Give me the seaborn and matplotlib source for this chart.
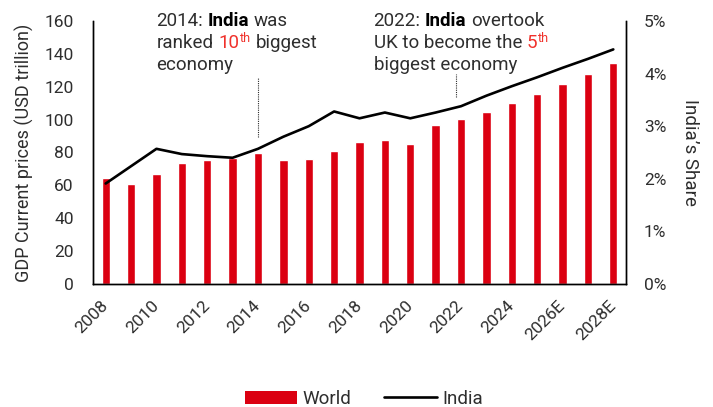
import numpy as np
import pandas as pd
import matplotlib
matplotlib.use("Agg")
import matplotlib.pyplot as plt
from matplotlib.patches import Patch
from matplotlib.lines import Line2D
from matplotlib.ticker import FuncFormatter
import seaborn as sns

# World GDP at current prices (USD trillion) and India's share of it
years = ["2008", "2009", "2010", "2011", "2012", "2013", "2014", "2015", "2016",
         "2017", "2018", "2019", "2020", "2021", "2022", "2023", "2024", "2025",
         "2026E", "2027E", "2028E"]
world_gdp = [64.3, 60.8, 66.7, 73.8, 75.4, 76.4, 79.7, 75.2, 76.2, 81.1, 86.4,
             87.4, 85.2, 96.7, 100.4, 104.8, 109.9, 115.8, 121.9, 127.7, 134.2]
india_share = [1.91, 2.24, 2.57, 2.47, 2.43, 2.40, 2.57, 2.80, 3.00, 3.28, 3.15,
               3.26, 3.15, 3.26, 3.38, 3.58, 3.76, 3.93, 4.11, 4.28, 4.46]
shown_ticks = ["2008", "2010", "2012", "2014", "2016", "2018", "2020", "2022",
               "2024", "2026E", "2028E"]

RED = "#db0011"
HILITE = "#f0312b"
INK = "#2e2e2e"
W, H = 713, 407

sns.set_theme(style="white")
plt.rcParams["font.family"] = ["Roboto", "DejaVu Sans"]
plt.rcParams["font.weight"] = "normal"
plt.rcParams["text.color"] = INK
plt.rcParams["axes.labelcolor"] = INK
plt.rcParams["xtick.color"] = INK
plt.rcParams["ytick.color"] = INK

df = pd.DataFrame({"year": years, "world": world_gdp, "india": india_share})
df["pos"] = np.arange(len(df))

fig = plt.figure(figsize=(W / 100, H / 100), dpi=100)
ax = fig.add_axes([93 / W, 1 - 284 / H, (626 - 93) / W, (284 - 21) / H])

sns.barplot(data=df, x="year", y="world", color=RED, width=0.33,
            saturation=1, ax=ax)
ax.set_xlim(-0.5, len(years) - 0.5)
ax.set_ylim(0, 160)
ax.set_yticks(np.arange(0, 161, 20))
ax.set_xticks([years.index(t) for t in shown_ticks])
ax.set_xticklabels(shown_ticks, rotation=45, ha="right", va="center",
                   rotation_mode="anchor")
ax.tick_params(axis="both", length=0, labelsize=12.5)
ax.tick_params(axis="y", pad=14)
ax.tick_params(axis="x", pad=14)
ax.set_xlabel("")
ax.set_ylabel("GDP Current prices (USD trillion)", fontsize=13)
ax.yaxis.set_label_coords((34 - 93) / 533, 0.5)

ax2 = ax.twinx()
sns.lineplot(data=df, x="pos", y="india", color="black", lw=1.9, ax=ax2)
ax2.set_ylim(0, 5)
ax2.set_yticks(np.arange(0, 6, 1))
ax2.yaxis.set_major_formatter(FuncFormatter(lambda v, _: f"{v:.0f}%"))
ax2.tick_params(axis="y", length=0, labelsize=12.5, pad=13)
ax2.set_xlabel("")
ax2.set_ylabel("India\u2019s Share", fontsize=13.5, rotation=270, va="center")
ax2.yaxis.set_label_coords((690 - 93) / 533, 0.5)

for a in (ax, ax2):
    for side, sp in a.spines.items():
        sp.set_visible(side != "top")
        sp.set_color("black")
        sp.set_linewidth(1.0)

# Dotted leaders pointing at the two milestone years
ax2.plot([6, 6], [(284 - 137) / 52.6, (284 - 77) / 52.6], color=INK,
         lw=0.8, ls=(0, (1, 1)))
ax2.plot([13.82, 13.82], [(284 - 97) / 52.6, (284 - 74) / 52.6], color=INK,
         lw=0.8, ls=(0, (1, 1)))

# Rich-text annotations laid out piece by piece
fig.canvas.draw()
renderer = fig.canvas.get_renderer()
FS = 13.5


def text_width(s, size=FS):
    t = fig.text(0, 0, s, fontsize=size)
    w = t.get_window_extent(renderer).width
    t.remove()
    return w


SPACE = text_width("a a") - text_width("aa")


def rich_line(x, y, pieces):
    for s, opts in pieces:
        if s == " ":
            x += SPACE
            continue
        size = opts.get("size", FS)
        dy = opts.get("dy", 0)
        t = fig.text(x / W, 1 - (y - dy) / H, s, fontsize=size, va="baseline",
                     ha="left", color=opts.get("color", INK),
                     fontweight=opts.get("weight", "normal"))
        x += t.get_window_extent(renderer).width + opts.get("gap", 0)


BOLD = {"weight": "bold", "color": "black"}
RED_T = {"color": HILITE, "gap": 0.5}
SUP = {"color": HILITE, "size": 9, "dy": 6}

rich_line(156.5, 26.5, [("2014:", {}), (" ", {}), ("India", BOLD), (" ", {}),
                        ("was", {})])
rich_line(156.5, 48.5, [("ranked", {}), (" ", {}), ("10", RED_T),
                        ("th", SUP), (" ", {}), ("biggest", {})])
rich_line(156.5, 70.5, [("economy", {})])

rich_line(373.5, 26.5, [("2022:", {}), (" ", {}), ("India", BOLD), (" ", {}),
                        ("overtook", {})])
rich_line(373.5, 48.5, [("UK to become the", {}), (" ", {}),
                        ("5", RED_T), ("th", SUP)])
rich_line(373.5, 70.5, [("biggest economy", {})])

handles = [Patch(facecolor=RED, edgecolor="none", label="World"),
           Line2D([], [], color="black", lw=1.9, label="India")]
fig.legend(handles=handles, loc="center", bbox_to_anchor=(364 / W, 1 - 399 / H),
           ncol=2, frameon=False, fontsize=13.5, handlelength=2.8,
           handletextpad=0.3, columnspacing=1.75)

fig.savefig("out.png", dpi=100)
